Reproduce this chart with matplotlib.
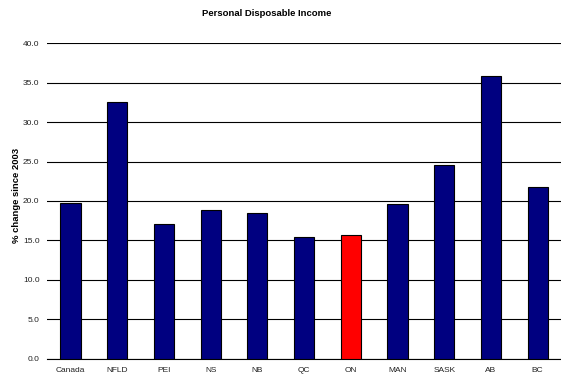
import matplotlib
matplotlib.use("Agg")
import matplotlib.pyplot as plt

# % change in personal disposable income since 2003, by province
regiones = ["Canada", "NFLD", "PEI", "NS", "NB", "QC", "ON", "MAN", "SASK", "AB", "BC"]
cambio = [19.8, 32.6, 17.1, 18.9, 18.5, 15.4, 15.7, 19.6, 24.6, 35.9, 21.8]
colores = ["#000080"] * len(regiones)
colores[regiones.index("ON")] = "#FF0000"

plt.rcParams["font.family"] = ["Liberation Sans", "DejaVu Sans"]

fig = plt.figure(figsize=(5.61, 3.77), dpi=100)
ax = fig.add_axes([0.084, 0.049, 0.916, 0.836])

x = range(len(regiones))
ax.bar(x, cambio, width=0.43, color=colores, edgecolor="black", linewidth=0.8, zorder=3)

ax.set_xlim(-0.5, len(regiones) - 0.5)
ax.set_ylim(0, 40)
ax.set_yticks([i * 5 for i in range(9)])
ax.set_yticklabels([f"{i * 5:.1f}" for i in range(9)], fontsize=6, color="#222222")
ax.set_xticks(list(x))
ax.set_xticklabels(regiones, fontsize=6, color="#222222")
ax.tick_params(axis="x", length=0, pad=6)
ax.tick_params(axis="y", length=0, pad=5.5)

ax.grid(axis="y", color="black", linewidth=0.8, zorder=0)
for lado in ["top", "right", "left"]:
    ax.spines[lado].set_visible(False)
ax.spines["bottom"].set_linewidth(0.8)

fig.text(17 / 561, 1 - 195 / 377, "% change since 2003", rotation=90, ha="center",
         va="center", fontsize=6.8, fontweight="bold")
fig.text(0.476, 0.963, "Personal Disposable Income", ha="center", va="center",
         fontsize=6.8, fontweight="bold")

fig.savefig("out.png", dpi=100)
